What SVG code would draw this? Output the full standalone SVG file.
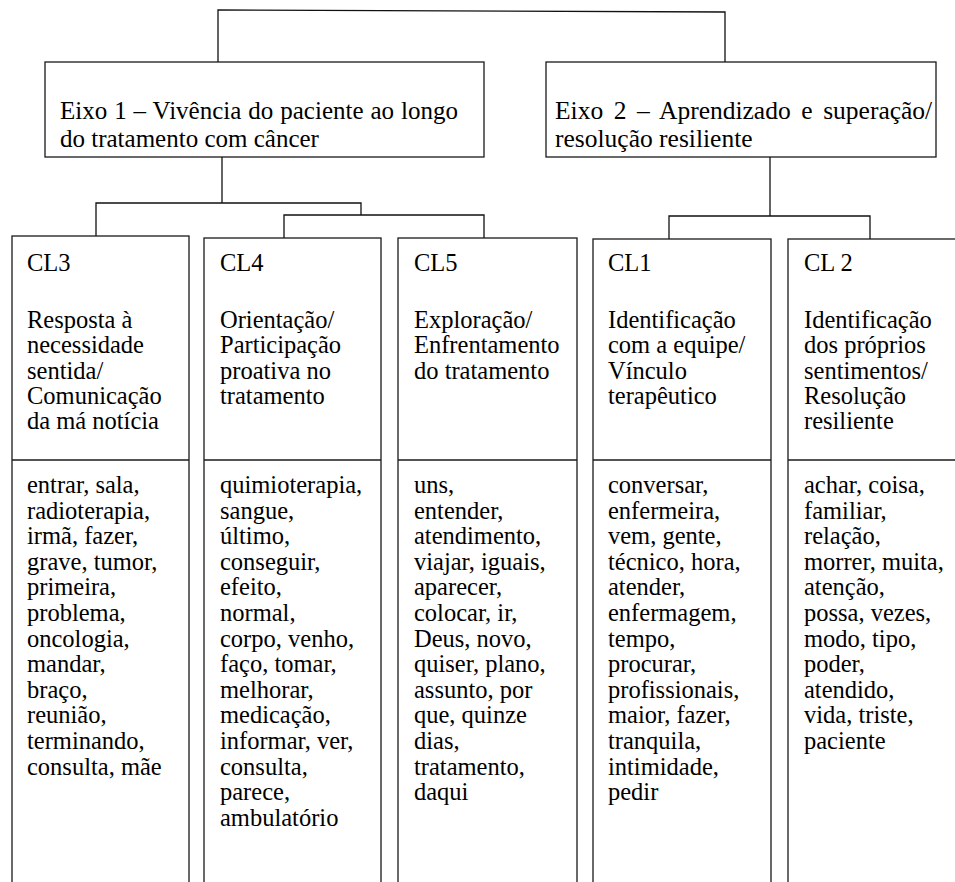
<svg xmlns="http://www.w3.org/2000/svg" width="955" height="882" viewBox="0 0 955 882">
<style>
  .bg { fill: #ffffff; }
  .box { fill: #ffffff; stroke: #1a1a1a; stroke-width: 1.3; }
  .div { stroke: #1a1a1a; stroke-width: 1.3; fill: none; }
  .conn { stroke: #111111; stroke-width: 1.3; fill: none; }
  text { font-family: "Liberation Serif", "Times New Roman", serif; fill: #000000; }
  .ax { font-size: 25px; }
  .ax2 { font-size: 25.5px; }
  .cl { font-size: 24.5px; }
</style>
<rect class="bg" x="0" y="0" width="955" height="882"/>

<g id="connectors">
  <polyline class="conn" points="218,62 218,10 725,12 725,62"/>
  <line class="conn" x1="222" y1="157" x2="222" y2="203"/>
  <polyline class="conn" points="96,237 96,203 361,203 361,215"/>
  <polyline class="conn" points="284,238 284,215 484,215 484,238"/>
  <line class="conn" x1="770" y1="157" x2="770" y2="216"/>
  <polyline class="conn" points="669,239 669,216 870,216 870,239"/>
</g>

<g id="eixo1">
  <rect class="box" x="45" y="62" width="439" height="95"/>
  <text class="ax" x="60" y="119" word-spacing="0.7">Eixo 1 – Vivência do paciente ao longo</text>
  <text class="ax" x="60" y="147">do tratamento com câncer</text>
</g>

<g id="eixo2">
  <rect class="box" x="546" y="62" width="390" height="95"/>
  <text class="ax2" x="555" y="119" word-spacing="4.2">Eixo 2 – Aprendizado e superação/</text>
  <text class="ax2" x="555" y="147">resolução resiliente</text>
</g>

<g id="cl3">
  <rect class="box" x="12" y="236" width="177" height="660"/>
  <line class="div" x1="12" y1="460" x2="189" y2="460"/>
  <text class="cl" x="27" y="271">CL3</text>
  <text class="cl">
    <tspan x="27" y="328">Resposta à</tspan>
    <tspan x="27" y="353.3">necessidade</tspan>
    <tspan x="27" y="378.6">sentida/</tspan>
    <tspan x="27" y="403.9">Comunicação</tspan>
    <tspan x="27" y="429.2">da má notícia</tspan>
  </text>
  <text class="cl">
    <tspan x="27" y="493">entrar, sala,</tspan>
    <tspan x="27" y="518.6">radioterapia,</tspan>
    <tspan x="27" y="544.2">irmã, fazer,</tspan>
    <tspan x="27" y="569.8">grave, tumor,</tspan>
    <tspan x="27" y="595.4">primeira,</tspan>
    <tspan x="27" y="621">problema,</tspan>
    <tspan x="27" y="646.6">oncologia,</tspan>
    <tspan x="27" y="672.2">mandar,</tspan>
    <tspan x="27" y="697.8">braço,</tspan>
    <tspan x="27" y="723.4">reunião,</tspan>
    <tspan x="27" y="749">terminando,</tspan>
    <tspan x="27" y="774.6">consulta, mãe</tspan>
  </text>
</g>

<g id="cl4">
  <rect class="box" x="204" y="238" width="177" height="660"/>
  <line class="div" x1="204" y1="460" x2="381" y2="460"/>
  <text class="cl" x="220" y="271">CL4</text>
  <text class="cl">
    <tspan x="220" y="328">Orientação/</tspan>
    <tspan x="220" y="353.3">Participação</tspan>
    <tspan x="220" y="378.6">proativa no</tspan>
    <tspan x="220" y="403.9">tratamento</tspan>
  </text>
  <text class="cl">
    <tspan x="220" y="493">quimioterapia,</tspan>
    <tspan x="220" y="518.6">sangue,</tspan>
    <tspan x="220" y="544.2">último,</tspan>
    <tspan x="220" y="569.8">conseguir,</tspan>
    <tspan x="220" y="595.4">efeito,</tspan>
    <tspan x="220" y="621">normal,</tspan>
    <tspan x="220" y="646.6">corpo, venho,</tspan>
    <tspan x="220" y="672.2">faço, tomar,</tspan>
    <tspan x="220" y="697.8">melhorar,</tspan>
    <tspan x="220" y="723.4">medicação,</tspan>
    <tspan x="220" y="749">informar, ver,</tspan>
    <tspan x="220" y="774.6">consulta,</tspan>
    <tspan x="220" y="800.2">parece,</tspan>
    <tspan x="220" y="825.8">ambulatório</tspan>
  </text>
</g>

<g id="cl5">
  <rect class="box" x="398" y="238" width="179" height="660"/>
  <line class="div" x1="398" y1="460" x2="577" y2="460"/>
  <text class="cl" x="414" y="271">CL5</text>
  <text class="cl">
    <tspan x="414" y="328">Exploração/</tspan>
    <tspan x="414" y="353.3">Enfrentamento</tspan>
    <tspan x="414" y="378.6">do tratamento</tspan>
  </text>
  <text class="cl">
    <tspan x="414" y="493">uns,</tspan>
    <tspan x="414" y="518.6">entender,</tspan>
    <tspan x="414" y="544.2">atendimento,</tspan>
    <tspan x="414" y="569.8">viajar, iguais,</tspan>
    <tspan x="414" y="595.4">aparecer,</tspan>
    <tspan x="414" y="621">colocar, ir,</tspan>
    <tspan x="414" y="646.6">Deus, novo,</tspan>
    <tspan x="414" y="672.2">quiser, plano,</tspan>
    <tspan x="414" y="697.8">assunto, por</tspan>
    <tspan x="414" y="723.4">que, quinze</tspan>
    <tspan x="414" y="749">dias,</tspan>
    <tspan x="414" y="774.6">tratamento,</tspan>
    <tspan x="414" y="800.2">daqui</tspan>
  </text>
</g>

<g id="cl1">
  <rect class="box" x="593" y="239" width="178" height="660"/>
  <line class="div" x1="593" y1="460" x2="771" y2="460"/>
  <text class="cl" x="608" y="271">CL1</text>
  <text class="cl">
    <tspan x="608" y="328">Identificação</tspan>
    <tspan x="608" y="353.3">com a equipe/</tspan>
    <tspan x="608" y="378.6">Vínculo</tspan>
    <tspan x="608" y="403.9">terapêutico</tspan>
  </text>
  <text class="cl">
    <tspan x="608" y="493">conversar,</tspan>
    <tspan x="608" y="518.6">enfermeira,</tspan>
    <tspan x="608" y="544.2">vem, gente,</tspan>
    <tspan x="608" y="569.8">técnico, hora,</tspan>
    <tspan x="608" y="595.4">atender,</tspan>
    <tspan x="608" y="621">enfermagem,</tspan>
    <tspan x="608" y="646.6">tempo,</tspan>
    <tspan x="608" y="672.2">procurar,</tspan>
    <tspan x="608" y="697.8">profissionais,</tspan>
    <tspan x="608" y="723.4">maior, fazer,</tspan>
    <tspan x="608" y="749">tranquila,</tspan>
    <tspan x="608" y="774.6">intimidade,</tspan>
    <tspan x="608" y="800.2">pedir</tspan>
  </text>
</g>

<g id="cl2">
  <rect class="box" x="788" y="239" width="190" height="660"/>
  <line class="div" x1="788" y1="460" x2="960" y2="460"/>
  <text class="cl" x="804" y="271">CL 2</text>
  <text class="cl">
    <tspan x="804" y="328">Identificação</tspan>
    <tspan x="804" y="353.3">dos próprios</tspan>
    <tspan x="804" y="378.6">sentimentos/</tspan>
    <tspan x="804" y="403.9">Resolução</tspan>
    <tspan x="804" y="429.2">resiliente</tspan>
  </text>
  <text class="cl">
    <tspan x="804" y="493">achar, coisa,</tspan>
    <tspan x="804" y="518.6">familiar,</tspan>
    <tspan x="804" y="544.2">relação,</tspan>
    <tspan x="804" y="569.8">morrer, muita,</tspan>
    <tspan x="804" y="595.4">atenção,</tspan>
    <tspan x="804" y="621">possa, vezes,</tspan>
    <tspan x="804" y="646.6">modo, tipo,</tspan>
    <tspan x="804" y="672.2">poder,</tspan>
    <tspan x="804" y="697.8">atendido,</tspan>
    <tspan x="804" y="723.4">vida, triste,</tspan>
    <tspan x="804" y="749">paciente</tspan>
  </text>
</g>
</svg>
